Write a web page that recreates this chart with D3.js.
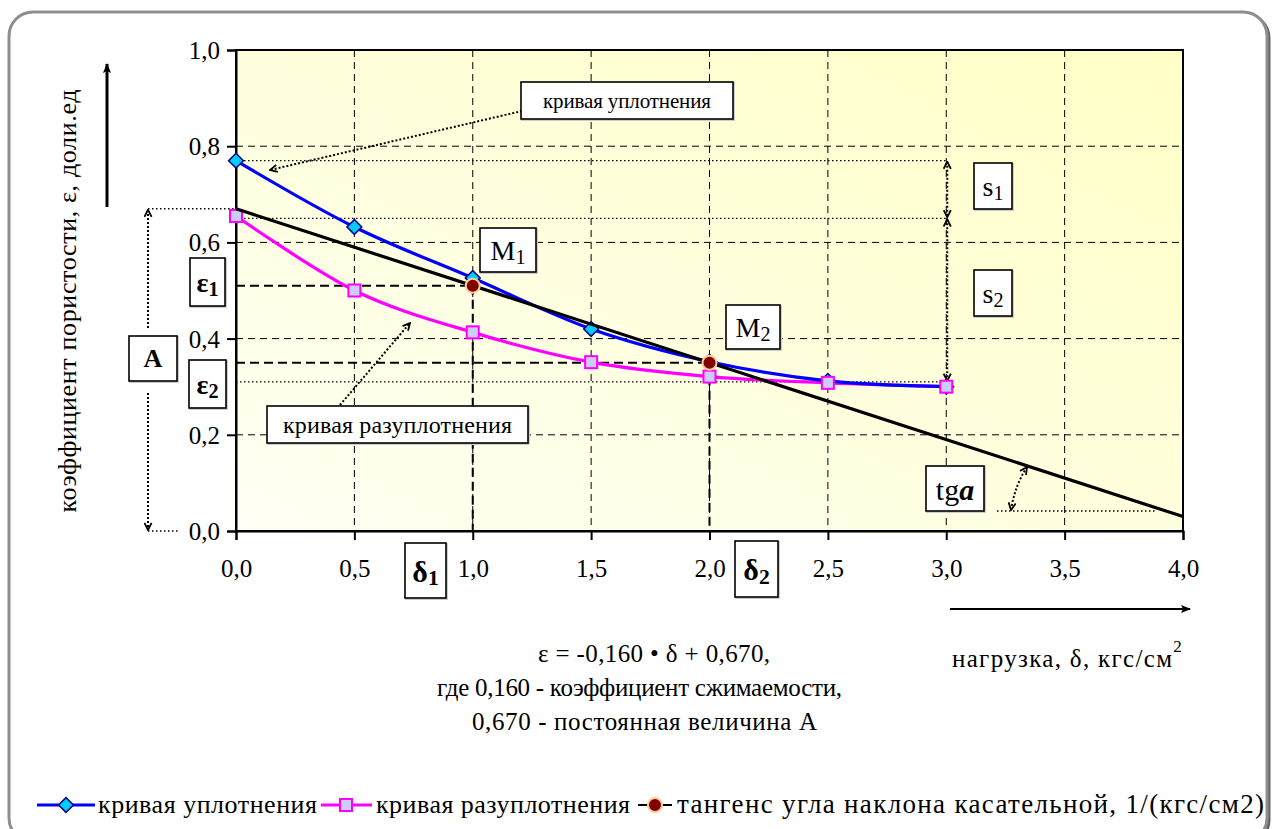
<!DOCTYPE html>
<html>
<head>
<meta charset="utf-8">
<script src="https://cdn.jsdelivr.net/npm/d3@7"></script>
<style>
  body { margin: 0; background: #fff; }
  svg { display: block; }
</style>
</head>
<body>
<svg id="chart" width="1273" height="829"></svg>
<script>
// Load, kgf/cm2
const loads = [0, 0.5, 1.0, 1.5, 2.0, 2.5, 3.0];
// Void ratio on loading (compaction curve)
const compaction = [0.770, 0.632, 0.526, 0.420, 0.352, 0.312, 0.300];
// Void ratio on unloading (decompaction curve)
const decompaction = [0.655, 0.500, 0.413, 0.351, 0.321, 0.308, 0.300];
// Tangent line  e = -0.160 * d + 0.670
const tangentLoads = [0, 4];
const tangentValues = [0.670, 0.030];
// Points M1, M2 on the tangent
const tangentPointLoads = [1.0, 2.0];
const tangentPointValues = [0.510, 0.350];
// Axis ticks
const xTicks = [0, 0.5, 1.0, 1.5, 2.0, 2.5, 3.0, 3.5, 4.0];
const xTickLabels = ["0,0", "0,5", "1,0", "1,5", "2,0", "2,5", "3,0", "3,5", "4,0"];
const yTicks = [0, 0.2, 0.4, 0.6, 0.8, 1.0];
const yTickLabels = ["0,0", "0,2", "0,4", "0,6", "0,8", "1,0"];
// Levels used by the s1 / s2 settlement markers
const settleLevels = [0.770, 0.650, 0.310];
const settleLoad = 3.0;

const FONT = '"Liberation Serif", "Times New Roman", Times, serif';

const svg = d3.select("#chart").style("font-family", FONT);
const x = d3.scaleLinear().domain([0, 4]).range([236, 1183]);
const y = d3.scaleLinear().domain([0, 1]).range([531, 50]);

function txt(sel) {
  return sel.style("font-family", FONT).attr("fill", "#000");
}

const defs = svg.append("defs");
const bg = defs.append("linearGradient").attr("id", "plotBg")
  .attr("x1", 0).attr("y1", 1).attr("x2", 1).attr("y2", 0);
bg.append("stop").attr("offset", "0%").attr("stop-color", "#fffff4");
bg.append("stop").attr("offset", "100%").attr("stop-color", "#ffffc6");

// open arrowhead for dotted pointers
defs.append("marker").attr("id", "openArrow").attr("viewBox", "0 0 10 10")
  .attr("refX", 9).attr("refY", 5).attr("markerWidth", 9).attr("markerHeight", 9)
  .attr("markerUnits", "userSpaceOnUse").attr("orient", "auto-start-reverse")
  .append("path").attr("d", "M1,1 L9,5 L1,9").attr("fill", "none")
  .attr("stroke", "#000").attr("stroke-width", 2);
// filled arrowhead for axis direction arrows
defs.append("marker").attr("id", "solidArrow").attr("viewBox", "0 0 10 10")
  .attr("refX", 9).attr("refY", 5).attr("markerWidth", 12).attr("markerHeight", 10)
  .attr("markerUnits", "userSpaceOnUse").attr("orient", "auto")
  .append("path").attr("d", "M0,1 L10,5 L0,9 L2,5 Z").attr("fill", "#000");

// outer rounded frame
svg.append("rect").attr("x", 11).attr("y", 14).attr("width", 1258).attr("height", 830)
  .attr("rx", 24).attr("fill", "none").attr("stroke", "#666").attr("stroke-width", 3);
svg.append("rect").attr("x", 9).attr("y", 12).attr("width", 1258).attr("height", 830)
  .attr("rx", 24).attr("fill", "#fff").attr("stroke", "#8e8e8e").attr("stroke-width", 3);

// plot area
svg.append("rect").attr("x", x(0)).attr("y", y(1)).attr("width", x(4) - x(0))
  .attr("height", y(0) - y(1)).attr("fill", "url(#plotBg)");

// dashed grid
const grid = svg.append("g").attr("stroke", "#000").attr("stroke-width", 1)
  .attr("stroke-dasharray", "7,5");
grid.selectAll(".gx").data(xTicks.filter(d => d > 0 && d < 4)).join("line")
  .attr("x1", d => x(d)).attr("x2", d => x(d)).attr("y1", y(1)).attr("y2", y(0));
grid.selectAll(".gy").data(yTicks.filter(d => d > 0 && d < 1)).join("line")
  .attr("y1", d => y(d)).attr("y2", d => y(d)).attr("x1", x(0)).attr("x2", x(4));

// dotted reference lines
const dotted = svg.append("g").attr("stroke", "#000").attr("stroke-width", 1.3)
  .attr("stroke-dasharray", "1.5,2.5").attr("fill", "none");
settleLevels.forEach(v => {
  dotted.append("line").attr("x1", x(0)).attr("x2", x(settleLoad)).attr("y1", y(v)).attr("y2", y(v));
});
// A dimension
dotted.append("line").attr("x1", 148).attr("x2", x(0)).attr("y1", y(tangentValues[0])).attr("y2", y(tangentValues[0]));
dotted.append("line").attr("x1", 148).attr("x2", 178).attr("y1", y(0)).attr("y2", y(0));
const arrowsG = svg.append("g").attr("stroke", "#000").attr("stroke-width", 2)
  .attr("stroke-dasharray", "2,2").attr("fill", "none");
arrowsG.append("line").attr("x1", 148).attr("x2", 148).attr("y1", 328).attr("y2", y(tangentValues[0]) + 1)
  .attr("marker-end", "url(#openArrow)");
arrowsG.append("line").attr("x1", 148).attr("x2", 148).attr("y1", 393).attr("y2", y(0) - 1)
  .attr("marker-end", "url(#openArrow)");
// s1 and s2 arrows
const sx = x(settleLoad) + 1;
arrowsG.append("line").attr("x1", sx).attr("x2", sx).attr("y1", y(settleLevels[0]) + 1).attr("y2", y(settleLevels[1]) - 1)
  .attr("marker-start", "url(#openArrow)").attr("marker-end", "url(#openArrow)");
arrowsG.append("line").attr("x1", sx).attr("x2", sx).attr("y1", y(settleLevels[1]) + 1).attr("y2", y(settleLevels[2]) - 1)
  .attr("marker-start", "url(#openArrow)").attr("marker-end", "url(#openArrow)");
// tg a angle marker
dotted.append("line").attr("x1", 997).attr("x2", 1157).attr("y1", 511).attr("y2", 511);
arrowsG.append("path").attr("d", "M1011,510 Q1015,485 1027,467")
  .attr("marker-start", "url(#openArrow)").attr("marker-end", "url(#openArrow)");
// pointer arrows from captions
arrowsG.append("line").attr("x1", 522).attr("x2", 270).attr("y1", 111).attr("y2", 170)
  .attr("marker-end", "url(#openArrow)");
arrowsG.append("line").attr("x1", 340).attr("x2", 410).attr("y1", 405).attr("y2", 323)
  .attr("marker-end", "url(#openArrow)");

// projection lines of M1, M2
const proj = svg.append("g").attr("stroke", "#000").attr("stroke-width", 2)
  .attr("stroke-dasharray", "9,5");
tangentPointLoads.forEach((d, i) => {
  const v = tangentPointValues[i];
  proj.append("line").attr("x1", x(0)).attr("x2", x(d)).attr("y1", y(v)).attr("y2", y(v));
  proj.append("line").attr("x1", x(d)).attr("x2", x(d)).attr("y1", y(v)).attr("y2", y(0));
});

// plot border
svg.append("rect").attr("x", x(0)).attr("y", y(1)).attr("width", x(4) - x(0))
  .attr("height", y(0) - y(1)).attr("fill", "none").attr("stroke", "#000").attr("stroke-width", 2);

// axes
const yAxis = d3.axisLeft(y).tickValues(yTicks).tickSize(9).tickFormat((d, i) => yTickLabels[i]);
const gy = svg.append("g").attr("transform", `translate(${x(0)},0)`).call(yAxis);
const xAxis = d3.axisBottom(x).tickValues(xTicks).tickSize(9).tickFormat((d, i) => xTickLabels[i]);
const gx = svg.append("g").attr("transform", `translate(0,${y(0)})`).call(xAxis);
[gx, gy].forEach(g => {
  g.attr("font-family", null).attr("font-size", null);
  g.select(".domain").attr("stroke", "#000").attr("stroke-width", 2);
  g.selectAll(".tick line").attr("stroke", "#000").attr("stroke-width", 2);
  txt(g.selectAll(".tick text")).style("font-size", "25px");
});
gy.selectAll(".tick text").attr("x", -16).attr("dy", "0.34em");
gx.selectAll(".tick text").attr("y", 46).attr("dy", 0);

// series lines (Excel-style smoothing)
const line = d3.line().x(d => x(d[0])).y(d => y(d[1])).curve(d3.curveCardinal.tension(0));
const blueData = loads.map((d, i) => [d, compaction[i]]);
const pinkData = loads.map((d, i) => [d, decompaction[i]]);
svg.append("path").datum(pinkData).attr("d", line).attr("fill", "none")
  .attr("stroke", "#ff00ff").attr("stroke-width", 3.2);
svg.append("path").datum(blueData).attr("d", line).attr("fill", "none")
  .attr("stroke", "#0000ff").attr("stroke-width", 3.2);

// markers
const diamond = d3.symbol().type(d3.symbolSquare).size(110);
svg.selectAll(".dia").data(blueData).join("path")
  .attr("d", diamond)
  .attr("transform", d => `translate(${x(d[0])},${y(d[1])}) rotate(45)`)
  .attr("fill", "#00ccff").attr("stroke", "#000080").attr("stroke-width", 1.5);
svg.selectAll(".sq").data(pinkData).join("rect")
  .attr("x", d => x(d[0]) - 6).attr("y", d => y(d[1]) - 6).attr("width", 12).attr("height", 12)
  .attr("fill", "#ccccff").attr("stroke", "#ff00ff").attr("stroke-width", 2);

// tangent line
svg.append("line").attr("x1", x(tangentLoads[0])).attr("y1", y(tangentValues[0]))
  .attr("x2", x(tangentLoads[1])).attr("y2", y(tangentValues[1]))
  .attr("stroke", "#000").attr("stroke-width", 3.2);
svg.selectAll(".mp").data(tangentPointLoads).join("circle")
  .attr("cx", d => x(d)).attr("cy", (d, i) => y(tangentPointValues[i])).attr("r", 7)
  .attr("fill", "#800000").attr("stroke", "#ffcc99").attr("stroke-width", 2);

// caption boxes
function box(bx, by, w, h, build) {
  svg.append("rect").attr("x", bx + 1).attr("y", by + 1).attr("width", w).attr("height", h)
    .attr("fill", "none").attr("stroke", "#ccc").attr("stroke-width", 2);
  svg.append("rect").attr("x", bx).attr("y", by).attr("width", w).attr("height", h)
    .attr("fill", "#fff").attr("stroke", "#000").attr("stroke-width", 1.6);
  const t = txt(svg.append("text")).attr("x", bx + w / 2).attr("y", by + h / 2)
    .attr("text-anchor", "middle").attr("dominant-baseline", "central");
  build(t);
}
box(521, 82, 212, 37, t => t.style("font-size", "21px").attr("textLength", 168)
  .attr("lengthAdjust", "spacing").text("кривая уплотнения"));
box(267, 406, 261, 37, t => t.style("font-size", "24px").attr("textLength", 229)
  .attr("lengthAdjust", "spacing").text("кривая разуплотнения"));
function sub(t, main, s, size, bold) {
  t.style("font-size", size + "px").style("font-weight", bold ? "bold" : "normal");
  t.append("tspan").text(main);
  t.append("tspan").attr("dy", size * 0.25).style("font-size", (size * 0.72) + "px").text(s);
}
box(480, 228, 56, 44, t => sub(t, "M", "1", 28, false));
box(726, 305, 54, 44, t => sub(t, "M", "2", 28, false));
box(974, 163, 38, 46, t => sub(t, "s", "1", 28, false));
box(974, 270, 38, 46, t => sub(t, "s", "2", 28, false));
box(129, 336, 48, 45, t => t.style("font-size", "26px").style("font-weight", "bold").text("A"));
box(190, 258, 35, 48, t => sub(t, "ε", "1", 28, true));
box(189, 360, 37, 48, t => sub(t, "ε", "2", 28, true));
box(405, 543, 41, 55, t => sub(t, "δ", "1", 30, true));
box(735, 541, 43, 56, t => sub(t, "δ", "2", 30, true));
box(926, 466, 58, 45, t => {
  t.style("font-size", "30px");
  t.append("tspan").text("tg");
  t.append("tspan").style("font-weight", "bold").style("font-style", "italic").text("a");
});

// axis titles and direction arrows
txt(svg.append("text")).attr("transform", "translate(67,301) rotate(-90)")
  .attr("text-anchor", "middle").attr("dominant-baseline", "central")
  .attr("textLength", 423).attr("lengthAdjust", "spacing")
  .style("font-size", "26px").text("коэффициент пористости, ε, доли.ед");
svg.append("line").attr("x1", 107).attr("x2", 107).attr("y1", 207).attr("y2", 64)
  .attr("stroke", "#000").attr("stroke-width", 3).attr("marker-end", "url(#solidArrow)");
svg.append("line").attr("x1", 950).attr("x2", 1190).attr("y1", 609).attr("y2", 609)
  .attr("stroke", "#000").attr("stroke-width", 2).attr("marker-end", "url(#solidArrow)");
const xt = txt(svg.append("text")).attr("x", 952).attr("y", 667).style("font-size", "25px");
xt.append("tspan").attr("textLength", 220).attr("lengthAdjust", "spacing").text("нагрузка, δ, кгс/см");
xt.append("tspan").attr("dy", -15).style("font-size", "17px").text("2");

// equation block
const eq = ["ε = -0,160 • δ + 0,670,", "где 0,160 - коэффициент сжимаемости,", "0,670 - постоянная величина А"];
const eqStart = [538, 437, 472];
const eqWidth = [232, 405, 345];
txt(svg.selectAll(".eq").data(eq).join("text"))
  .attr("x", (d, i) => eqStart[i]).attr("y", (d, i) => 662 + i * 34)
  .attr("textLength", (d, i) => eqWidth[i]).attr("lengthAdjust", "spacing")
  .style("font-size", "25px").text(d => d);

// legend
const lg = svg.append("g");
lg.append("line").attr("x1", 37).attr("x2", 95).attr("y1", 805).attr("y2", 805)
  .attr("stroke", "#0000ff").attr("stroke-width", 3.2);
lg.append("path").attr("d", diamond).attr("transform", "translate(66,805) rotate(45)")
  .attr("fill", "#00ccff").attr("stroke", "#000080").attr("stroke-width", 1.5);
txt(lg.append("text")).attr("x", 98).attr("y", 813).style("font-size", "26px")
  .attr("textLength", 219).attr("lengthAdjust", "spacing").text("кривая уплотнения");
lg.append("line").attr("x1", 321).attr("x2", 372).attr("y1", 805).attr("y2", 805)
  .attr("stroke", "#ff00ff").attr("stroke-width", 3.2);
lg.append("rect").attr("x", 340).attr("y", 799).attr("width", 12).attr("height", 12)
  .attr("fill", "#ccccff").attr("stroke", "#ff00ff").attr("stroke-width", 2);
txt(lg.append("text")).attr("x", 376).attr("y", 813).style("font-size", "26px")
  .attr("textLength", 254).attr("lengthAdjust", "spacing").text("кривая разуплотнения");
lg.append("line").attr("x1", 638).attr("x2", 672).attr("y1", 805).attr("y2", 805)
  .attr("stroke", "#000").attr("stroke-width", 2);
lg.append("circle").attr("cx", 655).attr("cy", 805).attr("r", 7)
  .attr("fill", "#800000").attr("stroke", "#ffcc99").attr("stroke-width", 2);
txt(lg.append("text")).attr("x", 677).attr("y", 813).style("font-size", "27px")
  .attr("textLength", 587).attr("lengthAdjust", "spacing")
  .text("тангенс угла наклона касательной, 1/(кгс/см2)");
</script>
</body>
</html>
